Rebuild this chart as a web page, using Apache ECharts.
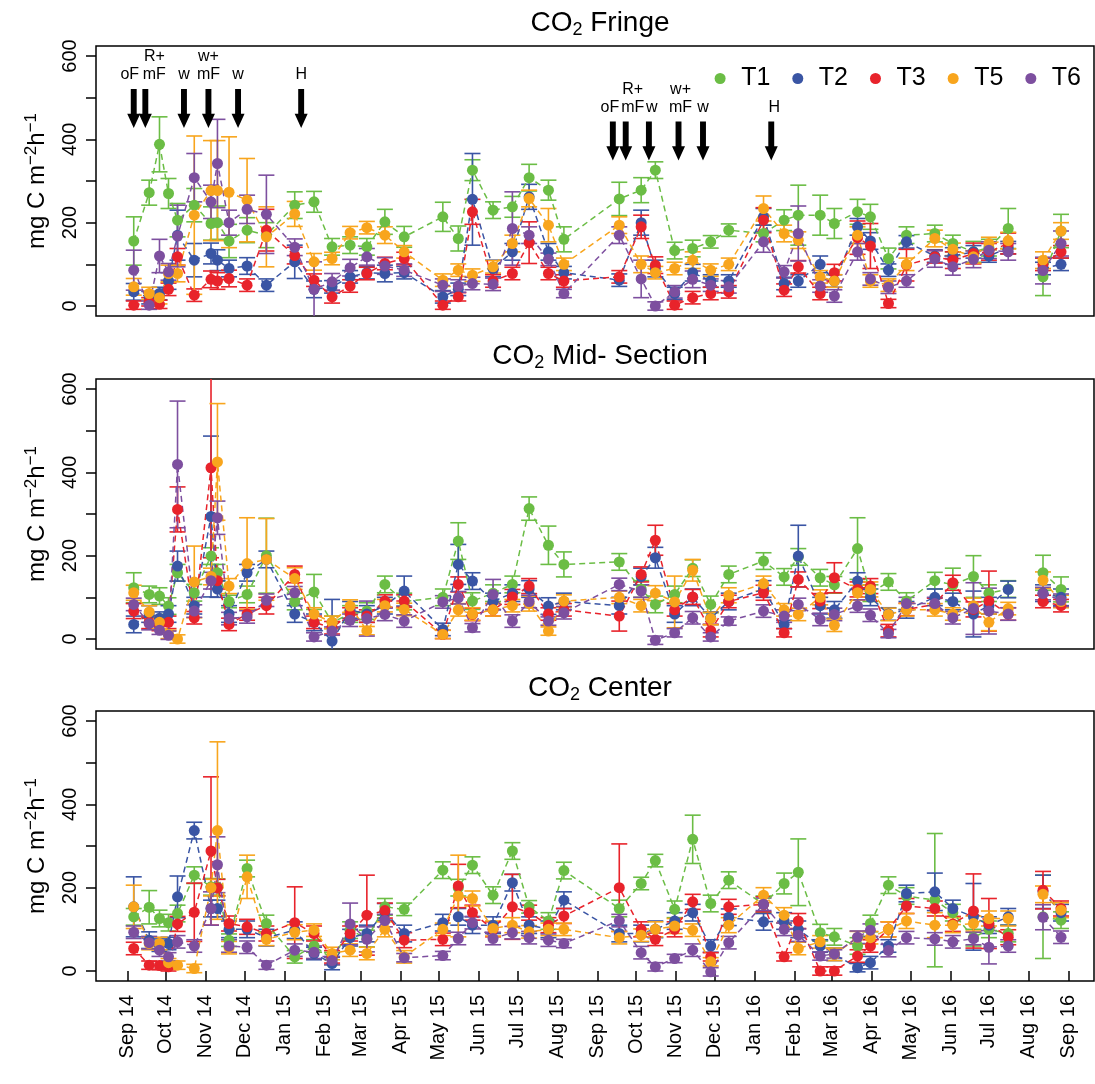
<!DOCTYPE html>
<html>
<head>
<meta charset="utf-8">
<script src="https://cdn.jsdelivr.net/npm/echarts@6/dist/echarts.min.js"></script>
<style>
html, body { margin: 0; padding: 0; background: #fff; }
#chart { width: 1095px; height: 1084px; }
</style>
</head>
<body>
<div id="chart"></div>
<script>
// sampling dates (the 2016-07-30 entry is an empty break between the last two blocks)
var dates = ['2014-09-06', '2014-09-18', '2014-09-26', '2014-10-03', '2014-10-10', '2014-10-23', '2014-11-05', '2014-11-10', '2014-11-19', '2014-12-03',
    '2014-12-18', '2015-01-09', '2015-01-24', '2015-02-07', '2015-02-21', '2015-03-06', '2015-03-20', '2015-04-04', '2015-05-04', '2015-05-16',
    '2015-05-27', '2015-06-12', '2015-06-27', '2015-07-10', '2015-07-25', '2015-08-06', '2015-09-18', '2015-10-05', '2015-10-16', '2015-10-31',
    '2015-11-14', '2015-11-28', '2015-12-12', '2016-01-08', '2016-01-24', '2016-02-04', '2016-02-21', '2016-03-03', '2016-03-21', '2016-03-31',
    '2016-04-14', '2016-04-28', '2016-05-20', '2016-06-03', '2016-06-19', '2016-07-01', '2016-07-16', '2016-07-30', '2016-08-12', '2016-08-26'];

var treatments = ['T1', 'T2', 'T3', 'T5', 'T6'];

// CO2 Fringe
var fringeT1 = [156, 272, 388, 270, 206, 242, 198, 200, 156, 182, 170, 242, 250, 142, 146, 142, 202, 166, 214, 162, 326, 230, 238, 308, 278, 160, 257, 278, 326, 133, 138, 154, 182, 174, 206, 218, 218, 198, 226, 214, 114, 170, 174, 150, 130, 140, 186, null, 70, 180];
var fringeT1Err = [58, 30, 66, 36, 40, 40, 40, 40, 40, 30, 30, 32, 25, 20, 20, 20, 30, 25, 35, 30, 25, 20, 25, 32, 24, 30, 40, 30, 20, 20, 20, 15, 15, 20, 25, 72, 48, 36, 30, 30, 25, 20, 20, 20, 25, 20, 48, null, 45, 40];
var fringeT2 = [34, 20, 30, 60, 170, 110, 126, 110, 90, 96, 50, 106, 40, 46, 70, 80, 78, 80, 22, 40, 256, 90, 130, 262, 130, 80, 62, 200, 90, 30, 80, 60, 60, 214, 54, 60, 100, 60, 190, 156, 86, 154, 120, 120, 130, 120, 140, null, 90, 100];
var fringeT2Err = [20, 15, 15, 20, 60, 40, 25, 25, 20, 20, 15, 40, 20, 15, 15, 15, 20, 15, 15, 15, 110, 20, 20, 30, 20, 15, 15, 30, 20, 15, 20, 15, 15, 20, 15, 15, 20, 15, 20, 20, 15, 15, 15, 20, 15, 15, 15, null, 15, 15];
var fringeT3 = [2, 10, 4, 40, 118, 26, 64, 60, 66, 50, 182, 121, 62, 22, 48, 78, 102, 114, 2, 22, 226, 60, 78, 152, 78, 60, 70, 190, 98, 2, 20, 30, 34, 206, 38, 94, 30, 80, 164, 144, 6, 98, 118, 110, 126, 130, 150, null, 100, 130];
var fringeT3Err = [10, 10, 10, 15, 20, 15, 20, 20, 20, 15, 50, 20, 15, 15, 15, 15, 15, 15, 10, 10, 30, 15, 15, 50, 15, 15, 15, 28, 20, 10, 15, 15, 15, 30, 15, 15, 15, 20, 40, 54, 10, 38, 15, 20, 25, 20, 25, null, 15, 15];
var fringeT5 = [46, 30, 20, 78, 78, 218, 277, 277, 273, 254, 166, 221, 106, 114, 176, 188, 170, 130, 62, 86, 74, 94, 150, 258, 194, 100, 194, 100, 80, 90, 110, 86, 100, 234, 174, 158, 70, 60, 170, 60, 50, 100, 162, 136, 118, 150, 157, null, 110, 180];
var fringeT5Err = [20, 15, 15, 20, 20, 190, 120, 120, 133, 100, 72, 30, 20, 15, 15, 15, 20, 15, 15, 15, 15, 15, 20, 20, 40, 15, 20, 20, 15, 15, 20, 15, 15, 30, 20, 20, 15, 15, 20, 15, 15, 15, 20, 15, 15, 15, 20, null, 20, 20];
var fringeT6 = [86, 2, 120, 82, 168, 308, 250, 342, 200, 232, 220, 141, 40, 58, 92, 118, 96, 86, 50, 48, 54, 52, 186, 170, 112, 30, 170, 65, 0, 34, 64, 50, 46, 154, 82, 174, 48, 24, 130, 65, 45, 60, 113, 94, 112, 134, 130, null, 85, 150];
var fringeT6Err = [48, 10, 40, 20, 74, 58, 40, 106, 30, 34, 94, 20, 66, 20, 20, 20, 20, 15, 15, 15, 15, 15, 88, 20, 15, 10, 20, 45, 10, 15, 20, 15, 15, 25, 15, 66, 15, 15, 20, 15, 15, 15, 20, 20, 20, 20, 20, null, 32, 30];

// CO2 Mid-Section
var midT1 = [123, 107, 103, 79, 159, 111, 199, 159, 90, 107, 200, 90, 113, 40, 60, 67, 131, 90, 100, 235, 91, 110, 131, 313, 225, 179, 185, 120, 83, 107, 170, 83, 155, 187, 149, 197, 147, 130, 217, 110, 137, 91, 140, 130, 150, 110, 120, null, 159, 119];
var midT1Err = [36, 20, 20, 20, 20, 20, 20, 20, 15, 20, 90, 20, 42, 15, 20, 20, 20, 20, 20, 44, 20, 20, 20, 28, 46, 30, 20, 20, 20, 20, 20, 20, 20, 20, 20, 20, 20, 20, 74, 20, 20, 20, 20, 40, 50, 20, 20, null, 42, 30];
var midT2 = [35, 60, 50, 60, 175, 80, 294, 120, 60, 159, 191, 60, 40, -5, 70, 60, 80, 115, 23, 179, 139, 90, 110, 120, 79, 90, 80, 150, 195, 60, 100, 50, 90, 120, 35, 199, 80, 70, 139, 100, 60, 70, 100, 90, 60, 80, 119, null, 110, 100];
var midT2Err = [20, 20, 15, 20, 36, 20, 193, 20, 20, 20, 20, 20, 20, 100, 20, 20, 20, 36, 15, 48, 20, 20, 20, 20, 20, 20, 20, 20, 25, 20, 20, 15, 20, 20, 10, 74, 20, 20, 20, 20, 15, 20, 20, 20, 55, 20, 20, null, 20, 20];
var midT3 = [67, 40, 35, 40, 311, 51, 411, 140, 35, 60, 80, 155, 40, 27, 60, 55, 91, 91, 11, 131, 59, 70, 101, 127, 60, 70, 55, 155, 237, 70, 101, 20, 90, 111, 15, 143, 91, 147, 119, 127, 20, 71, 83, 135, 71, 91, 60, null, 90, 80];
var midT3Err = [18, 15, 15, 15, 54, 15, 216, 20, 15, 15, 20, 20, 15, 15, 15, 15, 15, 15, 10, 18, 15, 15, 18, 18, 15, 15, 36, 18, 36, 15, 18, 15, 15, 18, 10, 18, 18, 36, 18, 18, 15, 15, 15, 18, 18, 72, 15, null, 15, 15];
var midT5 = [111, 65, 40, 11, 0, 137, 150, 425, 127, 181, 191, 145, 60, 40, 79, 20, 80, 71, 11, 70, 60, 70, 80, 85, 19, 91, 100, 80, 110, 89, 165, 49, 105, 133, 70, 59, 100, 33, 111, 119, 59, 70, 70, 60, 80, 40, 73, null, 141, 90];
var midT5Err = [18, 15, 15, 10, 10, 86, 20, 140, 18, 110, 98, 26, 15, 15, 15, 10, 15, 15, 10, 15, 15, 15, 15, 18, 10, 15, 15, 15, 18, 62, 26, 15, 18, 18, 15, 15, 18, 15, 18, 18, 15, 15, 15, 15, 18, 20, 15, null, 20, 15];
var midT6 = [83, 37, 21, 9, 419, 67, 140, 291, 49, 53, 93, 111, 5, 19, 45, 49, 59, 43, 89, 99, 27, 107, 43, 90, 43, 63, 131, 115, -3, 15, 51, 5, 43, 67, 55, 83, 47, 59, 79, 57, 13, 85, 85, 51, 73, 67, 60, null, 109, 93];
var midT6Err = [15, 15, 10, 10, 152, 15, 20, 40, 15, 15, 15, 15, 10, 10, 15, 42, 15, 15, 15, 15, 10, 36, 15, 15, 10, 15, 15, 15, 10, 10, 15, 10, 10, 15, 15, 15, 15, 15, 15, 15, 10, 15, 15, 15, 62, 55, 15, null, 15, 15];

// CO2 Center
var centerT1 = [130, 153, 126, 116, 138, 230, 202, 201, 74, 246, 114, 34, 60, 30, 98, 78, 154, 148, 242, 200, 254, 182, 288, 154, 120, 241, 150, 210, 265, 148, 316, 162, 218, 160, 210, 237, 92, 82, 60, 114, 206, 180, 170, 140, 80, 100, 90, null, 130, 122];
var centerT1Err = [20, 40, 20, 20, 20, 20, 20, 20, 15, 20, 20, 15, 15, 15, 20, 20, 20, 15, 20, 20, 20, 20, 20, 15, 20, 20, 20, 15, 15, 20, 58, 20, 20, 20, 25, 80, 20, 20, 20, 20, 20, 20, 160, 20, 20, 20, 20, null, 100, 20];
var centerT2 = [154, 74, 62, 66, 178, 337, 150, 150, 100, 100, 80, 98, 42, 18, 80, 90, 142, 90, 116, 130, 110, 110, 212, 110, 100, 170, 90, 90, 100, 120, 140, 60, 129, 118, 120, 100, 60, 40, 8, 20, 60, 186, 190, 150, 130, 110, 130, null, 190, 140];
var centerT2Err = [72, 20, 15, 15, 50, 20, 20, 20, 20, 20, 20, 20, 15, 15, 20, 20, 20, 20, 20, 20, 20, 20, 20, 20, 20, 20, 20, 20, 20, 20, 20, 15, 20, 20, 20, 20, 15, 15, 10, 15, 15, 20, 45, 20, 80, 20, 20, null, 40, 20];
var centerT3 = [54, 14, 13, 10, 113, 141, 288, 200, 114, 106, 90, 116, 90, 34, 90, 134, 145, 74, 76, 204, 140, 100, 154, 140, 110, 132, 200, 100, 76, 100, 166, 34, 154, 160, 34, 120, 0, 0, 36, 60, 100, 156, 150, 113, 144, 114, 81, null, 194, 150];
var centerT3Err = [15, 10, 10, 10, 18, 70, 178, 20, 18, 18, 18, 86, 18, 15, 18, 96, 18, 18, 15, 52, 18, 18, 78, 18, 18, 18, 105, 18, 15, 18, 18, 10, 18, 18, 10, 18, 10, 10, 15, 15, 18, 18, 18, 18, 89, 60, 18, null, 45, 18];
var centerT5 = [154, 66, 66, 20, 14, 6, 200, 337, 56, 226, 76, 93, 98, 42, 50, 42, 100, 34, 100, 180, 174, 102, 110, 94, 100, 100, 80, 86, 100, 108, 98, 22, 110, 182, 134, 54, 70, 40, 80, 80, 100, 120, 110, 110, 114, 126, 126, null, 184, 146];
var centerT5Err = [52, 15, 15, 10, 10, 10, 20, 213, 15, 52, 15, 18, 15, 15, 15, 15, 18, 15, 15, 98, 18, 18, 18, 15, 15, 15, 15, 15, 18, 18, 15, 10, 18, 18, 18, 15, 15, 15, 15, 15, 18, 18, 30, 18, 18, 18, 18, null, 20, 18];
var centerT6 = [93, 68, 50, 34, 70, 60, 150, 255, 60, 57, 14, 50, 45, 25, 113, 76, 121, 32, 37, 78, 116, 78, 92, 80, 74, 66, 121, 44, 10, 30, 50, -2, 68, 160, 100, 86, 36, 41, 81, 98, 49, 80, 77, 70, 78, 57, 60, null, 129, 81];
var centerT6Err = [15, 15, 15, 10, 15, 15, 40, 67, 15, 15, 10, 15, 15, 10, 50, 30, 15, 10, 10, 15, 15, 15, 15, 15, 15, 10, 15, 15, 10, 10, 15, 10, 15, 15, 15, 15, 10, 10, 15, 15, 15, 15, 15, 15, 15, 40, 15, null, 30, 15];

// x ticks (month starts) and their labels
var tickDates = ['2014-09-01', '2014-10-01', '2014-11-01', '2014-12-01', '2015-01-01', '2015-02-01', '2015-03-01', '2015-04-01', '2015-05-01', '2015-06-01', '2015-07-01', '2015-08-01', '2015-09-01',
    '2015-10-01', '2015-11-01', '2015-12-01', '2016-01-01', '2016-02-01', '2016-03-01', '2016-04-01', '2016-05-01', '2016-06-01', '2016-07-01', '2016-08-01', '2016-09-01'];
var tickLabels = ['Sep 14', 'Oct 14', 'Nov 14', 'Dec 14', 'Jan 15', 'Feb 15', 'Mar 15', 'Apr 15', 'May 15', 'Jun 15', 'Jul 15', 'Aug 15', 'Sep 15',
    'Oct 15', 'Nov 15', 'Dec 15', 'Jan 16', 'Feb 16', 'Mar 16', 'Apr 16', 'May 16', 'Jun 16', 'Jul 16', 'Aug 16', 'Sep 16'];
var yTicks = [0, 100, 200, 300, 400, 500, 600];
var yLabels = [0, 200, 400, 600];

// management events (fringe panel)
var eventDates = ['2014-09-06', '2014-09-15', '2014-10-15', '2014-11-03', '2014-11-26', '2015-01-14',
    '2015-09-13', '2015-09-23', '2015-10-11', '2015-11-03', '2015-11-22', '2016-01-14'];
var eventLabels = ['oF', 'R+\nmF', 'w', 'w+\nmF', 'w', 'H', 'oF', 'R+\nmF', 'w', 'w+\nmF', 'w', 'H'];
var eventLevel = [474, 474, 474, 474, 474, 474, 396, 396, 396, 396, 396, 396];
var eventLabelShift = [-4, 9, 0, 0, 0, 0, -3, 7, 3, 2, 0, 3];

var colors = ['#6BBD45', '#3A55A4', '#E8232B', '#F8A51D', '#7D4F9F'];
var font = 'Liberation Sans, Arial, Helvetica, sans-serif';

var panels = [
    { title: 'CO{sub|2} Fringe', vals: [fringeT1, fringeT2, fringeT3, fringeT5, fringeT6], errs: [fringeT1Err, fringeT2Err, fringeT3Err, fringeT5Err, fringeT6Err] },
    { title: 'CO{sub|2} Mid- Section', vals: [midT1, midT2, midT3, midT5, midT6], errs: [midT1Err, midT2Err, midT3Err, midT5Err, midT6Err] },
    { title: 'CO{sub|2} Center', vals: [centerT1, centerT2, centerT3, centerT5, centerT6], errs: [centerT1Err, centerT2Err, centerT3Err, centerT5Err, centerT6Err] }
];
var gridTops = [46, 379, 711];
var gridHeight = 270;

// dates as day numbers (UTC) so the x axis is a plain value axis
function toDay(d) {
    var p = d.split('-');
    return Date.UTC(+p[0], +p[1] - 1, +p[2]) / 86400000;
}

var tickDays = tickDates.map(toDay);
var xMin = toDay('2014-08-08') - 0.3;
var xMax = toDay('2016-09-20') + 0.6;

var grids = [], xAxes = [], yAxes = [], titles = [], series = [];

panels.forEach(function (panel, p) {
    grids.push({
        left: 96, right: 1, top: gridTops[p], height: gridHeight,
        show: true, borderColor: '#000', borderWidth: 1.5, backgroundColor: 'transparent'
    });
    titles.push({
        text: panel.title,
        left: 595, top: gridTops[p] - 43, textAlign: 'center',
        textStyle: {
            fontFamily: font, fontSize: 28, fontWeight: 'normal', color: '#000',
            rich: {
                sub: { fontFamily: font, fontSize: 18, color: '#000', verticalAlign: 'bottom', padding: [13, 0, 0, 0] }
            }
        }
    });
    var bottom = (p === 2);
    xAxes.push({
        type: 'value', gridIndex: p, min: xMin, max: xMax,
        axisLine: { show: false },
        splitLine: { show: false },
        axisTick: {
            show: bottom, customValues: tickDays, length: 10,
            lineStyle: { color: '#000', width: 1.5 }
        },
        axisLabel: {
            show: bottom, customValues: tickDays, rotate: 90, margin: 14,
            fontFamily: font, fontSize: 20, color: '#000',
            formatter: function (v) {
                var k = tickDays.indexOf(v);
                return k >= 0 ? tickLabels[k] : '';
            }
        }
    });
    yAxes.push({
        type: 'value', gridIndex: p, min: -24, max: 624,
        axisLine: { show: false },
        splitLine: { show: false },
        axisTick: {
            show: true, customValues: yTicks, length: 10,
            lineStyle: { color: '#000', width: 1.5 }
        },
        axisLabel: {
            customValues: yLabels, rotate: 90, margin: 16,
            fontFamily: font, fontSize: 20, color: '#000'
        },
        name: 'mg C m{sup|\u22122}h{sup|\u22121}',
        nameLocation: 'middle', nameGap: 45, nameRotate: 90,
        nameTextStyle: {
            fontFamily: font, fontSize: 24, color: '#000',
            rich: {
                sup: { fontFamily: font, fontSize: 17, color: '#000', verticalAlign: 'top', padding: [0, 0, 11, 0] }
            }
        }
    });

    // error bars
    treatments.forEach(function (name, i) {
        var data = [];
        dates.forEach(function (d, k) {
            var v = panel.vals[i][k];
            if (v !== null) data.push([toDay(d), v, panel.errs[i][k]]);
        });
        series.push({
            type: 'custom', name: name + ' err', xAxisIndex: p, yAxisIndex: p,
            clip: true, silent: true, z: 2,
            encode: { x: 0, y: 1 },
            data: data,
            renderItem: function (params, api) {
                var x = api.value(0), y = api.value(1), e = api.value(2);
                var top = api.coord([x, y + e]);
                var bot = api.coord([x, y - e]);
                var hw = 8;
                var st = { stroke: colors[i], lineWidth: 1.6 };
                return {
                    type: 'group',
                    children: [
                        { type: 'line', shape: { x1: top[0], y1: top[1], x2: bot[0], y2: bot[1] }, style: st },
                        { type: 'line', shape: { x1: top[0] - hw, y1: top[1], x2: top[0] + hw, y2: top[1] }, style: st },
                        { type: 'line', shape: { x1: bot[0] - hw, y1: bot[1], x2: bot[0] + hw, y2: bot[1] }, style: st }
                    ]
                };
            }
        });
    });

    // points with dashed connecting lines
    treatments.forEach(function (name, i) {
        series.push({
            type: 'line', name: name, xAxisIndex: p, yAxisIndex: p,
            z: 3,
            data: dates.map(function (d, k) {
                var v = panel.vals[i][k];
                return [toDay(d), v === null ? '-' : v];
            }),
            connectNulls: false,
            symbol: 'circle', symbolSize: 11, showSymbol: true,
            itemStyle: { color: colors[i] },
            lineStyle: { color: colors[i], width: 1.5, type: [6, 4] }
        });
    });
});

// event arrows in the fringe panel
series.push({
    type: 'scatter', name: 'events', xAxisIndex: 0, yAxisIndex: 0, z: 5, silent: true,
    symbol: 'path://M3,0 L8,0 L8,24 L11,24 L5.5,38 L0,24 L3,24 Z',
    symbolSize: [13, 39],
    itemStyle: { color: '#000', opacity: 1 },
    data: eventDates.map(function (d, k) {
        return {
            value: [toDay(d), eventLevel[k]],
            label: { formatter: eventLabels[k], offset: [eventLabelShift[k], 0] }
        };
    }),
    label: {
        show: true, position: 'top', distance: 5,
        fontFamily: font, fontSize: 16, lineHeight: 18, color: '#000', opacity: 1
    }
});

var option = {
    animation: false,
    backgroundColor: '#fff',
    title: titles,
    legend: {
        data: treatments,
        right: 9, top: 61,
        icon: 'circle', itemWidth: 32, itemHeight: 11, itemGap: 22,
        textStyle: { fontFamily: font, fontSize: 25, color: '#000' }
    },
    grid: grids,
    xAxis: xAxes,
    yAxis: yAxes,
    series: series
};

var chart = echarts.init(document.getElementById('chart'));
chart.setOption(option);
</script>
</body>
</html>
